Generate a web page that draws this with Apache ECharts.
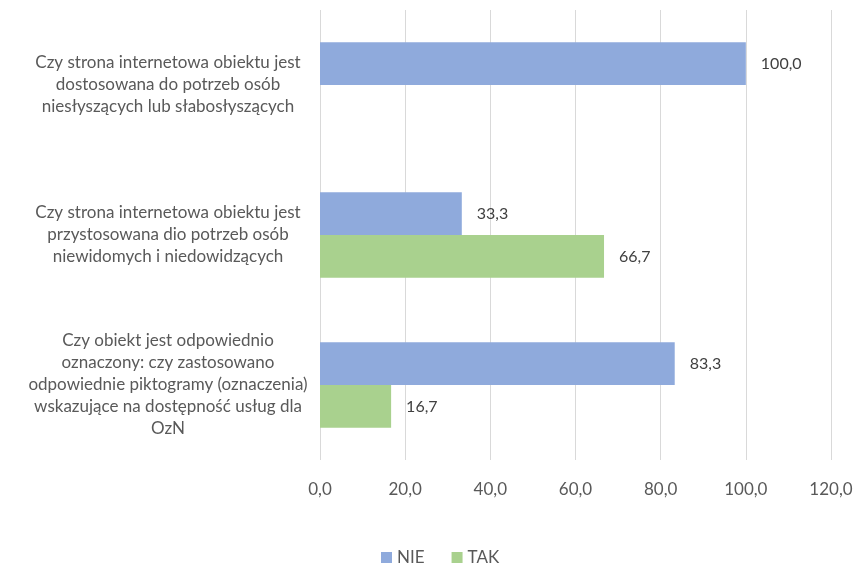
<!DOCTYPE html>
<html><head><meta charset="utf-8">
<script src="https://cdn.jsdelivr.net/npm/echarts@6/dist/echarts.min.js"></script>
<style>html,body{margin:0;padding:0;background:#fff}#c{width:856px;height:572px}</style>
</head><body><div id="c"></div>
<script>
const categories = [
  "Czy strona internetowa obiektu jest\ndostosowana do potrzeb osób\nniesłyszących lub słabosłyszących",
  "Czy strona internetowa obiektu jest\nprzystosowana dio potrzeb osób\nniewidomych i niedowidzących",
  "Czy obiekt jest odpowiednio\noznaczony: czy zastosowano\nodpowiednie piktogramy (oznaczenia)\nwskazujące na dostępność usług dla\nOzN"
];
const nieValues = [100.0, 33.3, 83.3];
const takValues = [0, 66.7, 16.7];
const xTicks = { min: 0, max: 120, interval: 20 };

const fmt = v => v.toFixed(1).replace('.', ',');
const font = 'Lato, "Open Sans", sans-serif';
const chart = echarts.init(document.getElementById('c'));
chart.setOption({
  animation: false,
  textStyle: { fontFamily: font },
  grid: { left: 320, right: 25, top: 10, bottom: 112, containLabel: false },
  legend: {
    bottom: 1, left: 376, itemWidth: 11, itemHeight: 11, itemGap: 27,
    icon: 'rect',
    textStyle: { color: '#595959', fontSize: 17, fontFamily: font },
    data: ['NIE', 'TAK']
  },
  xAxis: {
    type: 'value', min: xTicks.min, max: xTicks.max, interval: xTicks.interval,
    axisLine: { show: false }, axisTick: { show: false },
    splitLine: { lineStyle: { color: '#d9d9d9', width: 1 } },
    axisLabel: { color: '#595959', fontSize: 17, margin: 21, formatter: v => fmt(v) }
  },
  yAxis: {
    type: 'category', inverse: true, data: categories,
    axisLine: { show: false }, axisTick: { show: false },
    axisLabel: { color: '#595959', fontSize: 17, lineHeight: 22, align: 'center', margin: 152 }
  },
  series: [
    { name: 'NIE', type: 'bar', data: nieValues, barGap: '0%', barCategoryGap: '43%',
      itemStyle: { color: '#8faadc' },
      label: { show: true, position: 'right', distance: 15, color: '#404040', fontSize: 16,
        formatter: p => p.value ? fmt(p.value) : '' } },
    { name: 'TAK', type: 'bar', data: takValues, barGap: '0%', barCategoryGap: '43%',
      itemStyle: { color: '#a9d18e' },
      label: { show: true, position: 'right', distance: 15, color: '#404040', fontSize: 16,
        formatter: p => p.value ? fmt(p.value) : '' } }
  ]
});
</script></body></html>
